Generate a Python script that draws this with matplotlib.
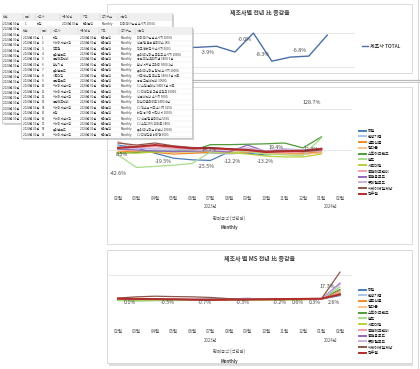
import matplotlib
matplotlib.use("Agg")
import matplotlib.pyplot as plt
from matplotlib.patches import Rectangle
import numpy as np

plt.rcParams['font.family'] = ['Noto Sans CJK KR', 'DejaVu Sans']

W, H = 420, 369

months = ["02월", "03월", "04월", "05월", "06월", "07월", "08월", "09월",
          "10월", "11월", "12월", "01월", "02월"]
years = ["2023년", "2024년"]

makers = ["하림", "한성기업", "샘표식품", "청다운", "스토아브랜드", "팔도", "사조대림",
          "동원에프앤비", "동원홈푸드", "롯데웰푸드", "씨제이제일제당", "진주햄"]
colors = ["#4a7ebb", "#a9c4eb", "#f08a2c", "#f9c48a", "#4f9a3a", "#a8dc8a",
          "#bccf3c", "#f2a0a6", "#9467bd", "#c9b3de", "#8c564b", "#b22d2d"]

# 제조사 TOTAL 전년比 (%)
total_yoy = [-2.1, -5.2, -3.0, -6.1, -4.4, -4.2, -3.9, -5.6, -0.0, -8.3, -7.1, -6.8, -0.6]
top_label_idx = [6, 8, 9, 11]
top_label_text = ["-3.9%", "-0.0%", "-8.3%", "-6.8%"]

# 제조사별 전년比 (%), 02월(2024) 없음
nan = np.nan
maker_yoy = [
    [12, 5, -8, -20, -24, -25.5, -5, -8, -12, -8, -10, -6, nan],
    [10, -3, 0, -3, -5, -8, -10, -6, -5, -6, -8, -5, nan],
    [-5, -3, -6, -10, -8, -6, -8, -5, -7, -9, -8, -5, nan],
    [0, -2, -3, -6, -4, -2, -5, -3, -9, -10, -11, -7, nan],
    [-8, -6, -4, -3, -2, 13, 13, 14, 15, 17, 5, 32, nan],
    [-12, -42.6, -40, -37, -33, -5, -8, -3, -10, -12, -14, 30, nan],
    [-6, -8, -5, -4, -4, -3, -6, -10, -15, -17, -17, -10, nan],
    [20, 6, 8, 4, 2, 2, 0, -2, -4, -6, -5, -3, nan],
    [2, 0, -2, -4, -3, -2, -5, 12, -4, 0, -2, 1, nan],
    [6, 4, 3, 2, 0, -2, 2, 5, -2, 3, 0, 2, nan],
    [17, 12, 17, 10, 6, 5, 3, 0, -3, -2, -4, 0, nan],
    [5, 8, 12, 8, 4, 5, 2, 0, -5, -3, -2, 3, nan],
]
mid_label_text = ["8.5%", "-42.6%", "-19.5%", "-25.5%", "14.5%", "-12.2%",
                  "-13.2%", "19.4%", "12.3%", "128.7%"]
mid_label_x = [0.2, 0.0, 2.45, 4.75, 4.95, 6.2, 7.95, 8.55, 10.45, 10.5]
mid_label_y = [-10, -58, -29, -41, 2, -29, -29, 5, 0, 115]

# 제조사별 MS 전년比 (%)
maker_ms = [
    [0.3, 0.2, 0.0, -0.2, -0.3, -0.2, 0.0, -0.1, -0.2, 0.0, 0.2, 0.3, 3],
    [0.2, 0.0, -0.1, -0.3, -0.2, -0.1, -0.2, 0.0, -0.1, 0.1, 0.0, 0.2, 4],
    [0.0, -0.2, -0.4, -0.5, -0.4, -0.3, -0.2, -0.3, -0.4, -0.2, 0.0, 0.2, 7],
    [0.1, -0.1, -0.2, -0.3, -0.3, -0.2, -0.1, -0.2, -0.3, -0.1, 0.1, 0.3, 6],
    [-0.5, -0.6, -0.5, -0.4, -0.3, 0.3, 0.4, 0.3, 0.2, 0.4, 0.2, 0.5, 8],
    [-1.0, -1.5, -1.2, -1.0, -0.8, -0.5, -0.4, -0.3, -0.5, -0.6, -0.4, 0.3, 10],
    [-0.3, -0.4, -0.3, -0.2, -0.2, -0.3, -0.4, -0.5, -0.6, -0.5, -0.4, 0.0, 5],
    [0.8, 0.5, 0.4, 0.3, 0.2, 0.1, 0.0, -0.1, -0.2, -0.2, -0.1, 0.2, 6],
    [0.2, 0.1, 0.0, -0.1, -0.2, -0.1, 0.2, 0.8, 0.0, 0.1, 0.2, 0.4, 13],
    [0.4, 0.3, 0.2, 0.1, 0.0, -0.1, 0.1, 0.3, 0.0, 0.2, 0.1, 0.3, 12],
    [1.0, 2.0, 2.5, 2.2, 2.0, 1.5, 0.5, 0.0, 0.0, 0.4, 0.5, 0.5, 22],
    [0.5, 0.3, 0.2, 0.0, -0.3, -0.5, -0.3, -0.2, 0.0, 0.2, 0.3, 0.5, 4],
]
bot_label_text = ["0.1%", "-0.5%", "-0.7%", "-0.3%", "-0.2%", "0.6%", "0.3%", "17.7%", "2.6%"]
bot_label_x = [0.65, 2.7, 4.7, 6.75, 8.75, 9.7, 10.65, 11.3, 11.65]
bot_label_y = [-2.5, -2.5, -2.5, -2.5, -2.5, -2.5, -2.5, 10, -2.5]

# 표 (순위 데이터)
tbl_header = ["년월", "순위", "제조사", "구매년월", "지표", "주기구분", "제품명"]
tbl_ranks = list(range(1, 20))
tbl_makers = ["하림", "씨제이제일제당", "진주햄", "롯데웰푸드", "동원에프앤비", "한성기업",
              "롯데웰푸드", "사조대림", "동원홈푸드", "씨제이제일제당", "씨제이제일제당",
              "씨제이제일제당", "동원에프앤비", "씨제이제일제당", "하림", "씨제이제일제당",
              "씨제이제일제당", "롯데웰푸드", "씨제이제일제당"]
tbl_products = ["더미 닭가슴살 소시지 1000G", "백설 햄 블록 슬라이스 1KG", "진주 천하장사 소시지 500G",
                "롯데 의성마늘 프랑크 소시지 1000G", "동원 리챔 오리지널 340G 3입",
                "한성 게맛살 크래미 500G 2입", "롯데 의성마늘 햄 앤 소시지 1000G",
                "사조 안심팜 로스팜 340G 3입 세트", "동원 그릴 비엔나 1000G",
                "CJ 스팸 클래식 340G 6입 세트", "CJ 더건강한 그릴 후랑크 1000G",
                "백설 비엔나 소시지 500G", "리챔 더블라이트 340G 4입",
                "CJ 맥스봉 치즈 소시지 525G", "하림 용가리 치킨너겟 1000G",
                "CJ 백설 햄 슬라이스 500G", "CJ 스팸 25% 라이트 340G",
                "롯데 의성마늘 비엔나 1000G", "CJ 더건강한 베이컨 500G"]
tbl_ym = "2024년 01월"
tbl_metric = "판매금액"
tbl_period = "Monthly"

fig = plt.figure(figsize=(4.2, 3.69), dpi=100)


def box(x0, y0, x1, y1):
    return [x0 / W, 1 - y1 / H, (x1 - x0) / W, (y1 - y0) / H]


# 배경 / 패널
bg = fig.add_axes([0, 0, 1, 1], zorder=0)
bg.set_xlim(0, W)
bg.set_ylim(H, 0)
bg.axis("off")
pcol = "#d6d6d6"
bg.add_patch(Rectangle((109, 250), 304, 116, fc="#c8c8c8", ec="none", alpha=0.6))
for (x0, y0, x1, y1) in [(107, 4, 412, 73), (107, 87, 412, 244), (107, 250, 412, 363)]:
    bg.add_patch(Rectangle((x0, y0), x1 - x0, y1 - y0, fc="white", ec=pcol, lw=0.6))
bg.plot([100, 420], [79.5, 79.5], color="#b8b8b8", lw=0.9)
bg.plot([100, 420], [82.2, 82.2], color="#c8c8c8", lw=0.7)
bg.plot([417.5, 417.5], [0, 369], color="#cfcfcf", lw=0.6)

title_kw = dict(ha="center", va="center", fontsize=4.3, fontweight="bold", color="#3f3f3f")
bg.text(260, 12, "제조사별 전년 比 증감율", **title_kw)
bg.text(260, 258, "제조사 별 MS 전년 比 증감율", **title_kw)

sub_kw = dict(ha="center", va="center", fontsize=3.1, color="#555555")
for ybase in (191, 324):
    bg.text(211, ybase + 16, years[0], **sub_kw)
    bg.text(331, ybase + 16, years[1], **sub_kw)
    bg.text(229, ybase + 27, "판매금액 (백만원)", **sub_kw)
    bg.text(229, ybase + 37, "Monthly", ha="center", va="center", fontsize=3.1,
            fontweight="bold", color="#444444")

x = np.arange(len(months))
grid_c = "#e4e4e4"


def style(ax):
    ax.set_facecolor("none")
    for s in ax.spines.values():
        s.set_visible(False)
    ax.tick_params(length=0, labelsize=3.2, labelcolor="#555555", pad=3.3)
    ax.set_yticks([])


# 상단: 제조사 TOTAL
ax_top = fig.add_axes(box(100, 28, 355, 72), zorder=1)
style(ax_top)
ax_top.set_xlim(-0.3, 13.5)
ax_top.set_ylim(-11.5, 1.5)
ax_top.set_xticks([])
for g in (0, -10):
    ax_top.axhline(g, color=grid_c, lw=0.6, zorder=0)
ln, = ax_top.plot(x, total_yoy, color="#4a6fa8", lw=1.0)
top_dy = [-4.5, -4.5, 4.5, 4]
for i, t, dy in zip(top_label_idx, top_label_text, top_dy):
    ax_top.annotate(t, (x[i], total_yoy[i]), xytext=(-6.5, dy),
                    textcoords="offset points", ha="center", va="center",
                    fontsize=3.8, color="#444444")
ax_top.legend([ln], ["제조사 TOTAL"], loc="center left", bbox_to_anchor=(362 / W, 1 - 46 / H),
              bbox_transform=fig.transFigure, frameon=False, fontsize=3.6,
              handlelength=1.1, handletextpad=0.5, borderpad=0, borderaxespad=0)

# 중간: 제조사별 전년比
ax_mid = fig.add_axes(box(108, 95, 352, 191), zorder=1)
style(ax_mid)
ax_mid.set_xlim(-0.54, 12.65)
ax_mid.set_ylim(-100, 134)
ax_mid.set_xticks(x)
ax_mid.set_xticklabels(months)
for g in (100, 0, -100):
    ax_mid.axhline(g, color=grid_c, lw=0.6, zorder=0)
handles = []
for vals, c, name in zip(maker_yoy, colors, makers):
    lw = 1.5 if name == "진주햄" else 0.9
    h, = ax_mid.plot(x, vals, color=c, lw=lw)
    handles.append(h)
for t, lx, ly in zip(mid_label_text, mid_label_x, mid_label_y):
    ax_mid.text(lx, ly, t, ha="center", va="center", fontsize=3.8, color="#444444")

leg_kw = dict(loc="upper left", bbox_transform=fig.transFigure, frameon=False,
              fontsize=2.8, handlelength=1.8, handletextpad=0.5, labelspacing=0.45,
              borderpad=0, borderaxespad=0)
leg = ax_mid.legend(handles, makers, bbox_to_anchor=(359 / W, 1 - 129 / H), **leg_kw)
for lh in leg.get_lines():
    lh.set_linewidth(1.4)

# 하단: MS 전년比
ax_bot = fig.add_axes(box(108, 262, 352, 324), zorder=1)
style(ax_bot)
ax_bot.set_xlim(-0.54, 12.65)
ax_bot.set_ylim(-20, 30.2)
ax_bot.set_xticks(x)
ax_bot.set_xticklabels(months)
for g in (20, -20):
    ax_bot.axhline(g, color=grid_c, lw=0.6, zorder=0)
handles = []
for vals, c, name in zip(maker_ms, colors, makers):
    lw = 1.5 if name == "진주햄" else 0.9
    h, = ax_bot.plot(x, vals, color=c, lw=lw)
    handles.append(h)
for t, lx, ly in zip(bot_label_text, bot_label_x, bot_label_y):
    ax_bot.text(lx, ly, t, ha="center", va="center", fontsize=3.8, color="#444444")
leg = ax_bot.legend(handles, makers, bbox_to_anchor=(359 / W, 1 - 288 / H), **leg_kw)
for lh in leg.get_lines():
    lh.set_linewidth(1.4)

# 표 오버레이 (뒤 표, 앞 표 각각 별도 축)
front = (21, 27, 192, 138)


def hidden(px, py):
    # 앞 표에 가려지는 뒤 표 셀은 그리지 않음
    return front[0] - 1 <= px <= front[2] and front[1] <= py <= front[3]


def draw_table(x0, y0, x1, y1, cols, row0, step, z, cover=None):
    ov = fig.add_axes([0, 0, 1, 1], zorder=z)
    ov.set_xlim(0, W)
    ov.set_ylim(H, 0)
    ov.axis("off")
    ov.add_patch(Rectangle((x0 + 2, y0 + 2), x1 - x0, y1 - y0, fc="#9a9a9a", ec="none", alpha=0.45))
    body = Rectangle((x0, y0), x1 - x0, y1 - y0, fc="white", ec="#bdbdbd", lw=0.5)
    ov.add_patch(body)
    hb = row0 - step / 2
    ov.add_patch(Rectangle((x0, y0), x1 - x0, hb - y0, fc="#efefef", ec="none"))
    hy = (y0 + hb) / 2
    for cx, name in zip(cols, tbl_header):
        t = ov.text(cx, hy, name, fontsize=2.2, color="#666666", va="center", ha="left")
        t.set_clip_path(body)
    for cx in cols[1:]:
        ov.plot([cx - 2, cx - 2], [y0 + 1, hb - 1], color="#cccccc", lw=0.3)
    for r in range(len(tbl_ranks)):
        ry = row0 + r * step
        ov.plot([x0, x1], [ry + step / 2, ry + step / 2], color="#e6e6e6", lw=0.3)
        cells = [tbl_ym, str(tbl_ranks[r]), tbl_makers[r], tbl_ym, tbl_metric, tbl_period,
                 tbl_products[r]]
        for cx, val in zip(cols, cells):
            if cover is not None and cover(cx, ry):
                continue
            t = ov.text(cx, ry, val, fontsize=2.2, color="#333333", va="center", ha="left")
            t.set_clip_path(body)


draw_table(2, 13, 172, 123, [3, 25, 37, 62, 83, 102, 120], 24, 5.3, 5, cover=hidden)
draw_table(front[0], front[1], front[2], front[3], [23, 42, 53, 80, 101, 121, 137], 38, 5.37, 6)

fig.savefig("out.png", dpi=100)
